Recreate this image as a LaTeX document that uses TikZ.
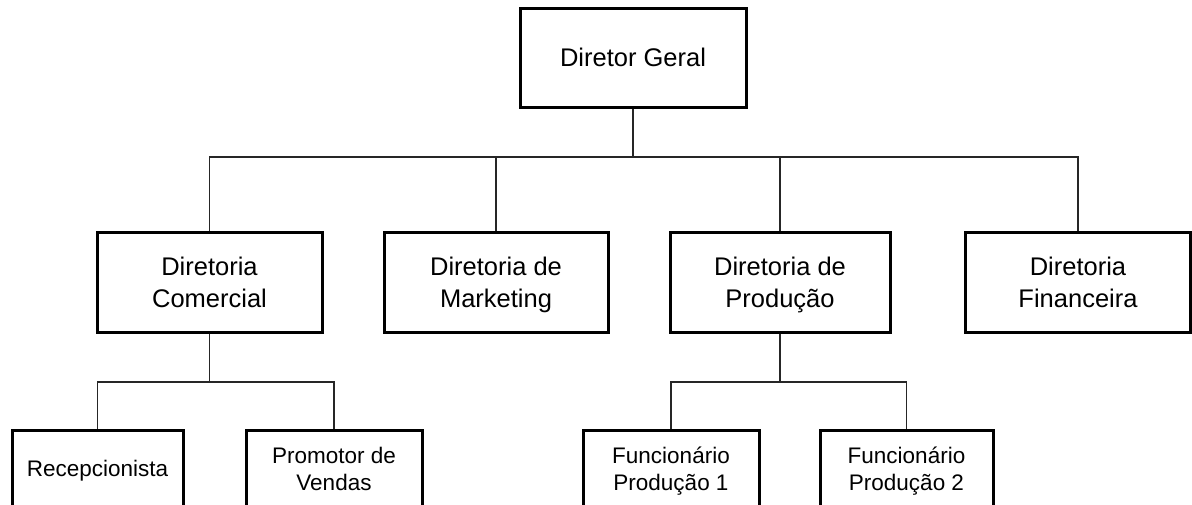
\documentclass[tikz,border=0pt]{standalone}
\usepackage{fontspec}
\setmainfont{Liberation Sans}
\begin{document}
\begin{tikzpicture}[x=1pt,y=-1pt,
  bigbox/.style={draw=black,line width=3pt,rectangle,inner sep=0pt,align=center,
    font=\fontsize{25.5}{32}\selectfont,minimum height=100pt},
  smallbox/.style={draw=black,line width=3pt,rectangle,inner sep=0pt,align=center,
    font=\fontsize{22.5}{27}\selectfont,minimum height=77pt},
  bigone/.style={text depth=5pt,text height=23.3pt},
  bigtwo/.style={text depth=5pt,text height=55.3pt},
  smallone/.style={text depth=5pt,text height=21.1pt},
  smalltwo/.style={text depth=5pt,text height=48.1pt},
  link/.style={draw=black!85,line width=1.3pt}]
\useasboundingbox (0,0) rectangle (1192,504);
\clip (0,0) rectangle (1192,504);
\fill[white] (0,0) rectangle (1192,504);
\node[bigbox,bigone,minimum width=226pt,minimum height=99pt] (top) at (633,57.5) {Diretor Geral};
\node[bigbox,bigtwo,minimum width=225pt] (com) at (209.5,282) {Diretoria\\Comercial};
\node[bigbox,bigtwo,minimum width=224pt] (mkt) at (496,282.5) {Diretoria de\\Marketing};
\node[bigbox,bigtwo,minimum width=220pt] (prod) at (780,282) {Diretoria de\\Produção};
\node[bigbox,bigtwo,minimum width=225pt] (fin) at (1078,282) {Diretoria\\Financeira};
\node[smallbox,smallone,minimum width=171pt] (rec) at (97.5,468.5) {Recepcionista};
\node[smallbox,smalltwo,minimum width=176pt] (pro) at (334,468.5) {Promotor de\\Vendas};
\node[smallbox,smalltwo,minimum width=176pt] (f1) at (671,468.5) {Funcionário\\Produção 1};
\node[smallbox,smalltwo,minimum width=173pt] (f2) at (906.5,468.5) {Funcionário\\Produção 2};
\coordinate (bus) at (633,157);
\coordinate (busc) at (209.5,382);
\coordinate (busp) at (780,382);
\draw[link] (top.south) -- (bus);
\draw[link] (bus) -| (com.north);
\draw[link] (bus) -| (mkt.north);
\draw[link] (bus) -| (prod.north);
\draw[link] (bus) -| (fin.north);
\draw[link] (com.south) -- (busc);
\draw[link] (busc) -| (rec.north);
\draw[link] (busc) -| (pro.north);
\draw[link] (prod.south) -- (busp);
\draw[link] (busp) -| (f1.north);
\draw[link] (busp) -| (f2.north);
\end{tikzpicture}
\end{document}
